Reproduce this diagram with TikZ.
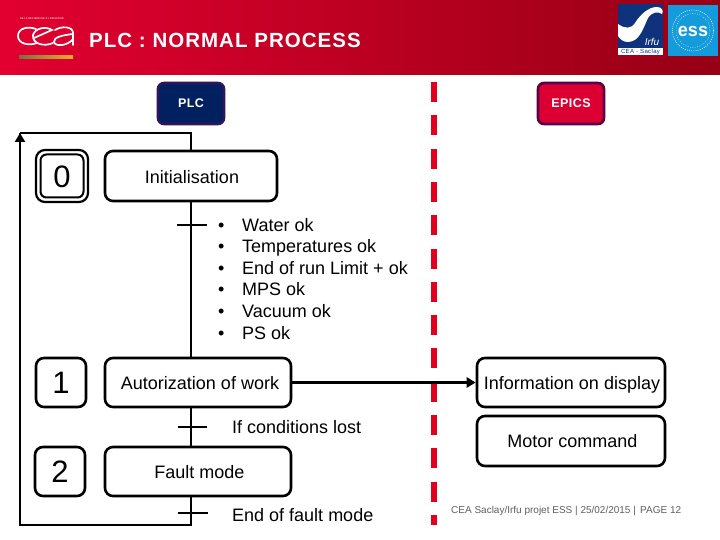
\documentclass[tikz,border=0pt]{standalone}
\usepackage{fontspec}
\usepackage{graphicx}
\setmainfont{Liberation Sans}
\usetikzlibrary{arrows.meta,calc,positioning}
\definecolor{hdrA}{RGB}{226,0,48}
\definecolor{hdrB}{RGB}{205,0,40}
\definecolor{hdrC}{RGB}{150,0,20}
\definecolor{navyfill}{RGB}{0,32,96}
\definecolor{navyedge}{RGB}{50,20,90}
\definecolor{redfill}{RGB}{220,0,50}
\definecolor{rededge}{RGB}{90,0,70}
\definecolor{dashred}{RGB}{225,0,30}
\definecolor{irfublue}{RGB}{15,50,125}
\definecolor{essblue}{RGB}{20,155,220}
\definecolor{footgray}{RGB}{95,95,95}
\definecolor{barL}{RGB}{120,110,70}
\definecolor{barR}{RGB}{235,175,40}
\tikzset{
  x=1pt,y=-1pt,
  box/.style={draw=black,line width=2.6pt,rounded corners=8pt,fill=white,inner sep=0pt,text=black,font=\fontsize{18}{20}\selectfont,text height=13pt,text depth=0pt},
  headbox/.style={line width=2.6pt,rounded corners=6pt,inner sep=0pt,text=white,font=\bfseries\fontsize{12.5}{15}\selectfont\addfontfeature{LetterSpace=4},minimum width=66pt,minimum height=41pt},
  stepnum/.style={box,font=\fontsize{31}{34}\selectfont,text height=22pt,minimum width=50pt,minimum height=49pt},
  wire/.style={draw=black,line width=2.6pt},
  lbl/.style={inner sep=0pt,anchor=base west,text=black,font=\fontsize{18}{20}\selectfont},
  logoline/.style={draw=white,line width=1.7pt,line cap=round},
}
\begin{document}
\begin{tikzpicture}
\useasboundingbox (0,0) rectangle (720,540);
\fill[white] (0,0) rectangle (720,540);
% header
\shade[left color=hdrA,middle color=hdrB,right color=hdrC] (0,0) rectangle (720,75);
% cea logo
\draw[logoline] (36,29) .. controls (28,26) and (18,28) .. (18,36) .. controls (18,44) and (29,46) .. (37,43);
\draw[logoline] (34,38) -- (52,30) .. controls (46,26) and (35,28) .. (33,35) .. controls (32,44) and (44,47) .. (53,43);
\draw[logoline] (55,30) .. controls (61,26) and (73,26) .. (73,33) -- (73,45);
\draw[logoline] (73,34) .. controls (64,35) and (53,37) .. (54,42) .. controls (55,47) and (68,46) .. (73,39);
\shade[left color=barL,right color=barR] (19,56) rectangle (73,59);
\node[inner sep=0pt,text=white,font=\fontsize{2.6}{3}\selectfont] (tagline) at (42,18.5) {DE LA RECHERCHE À L'INDUSTRIE};
\node[inner sep=0pt,anchor=west,text=white,font=\bfseries\fontsize{20.5}{24}\selectfont\addfontfeature{LetterSpace=5}] (title) at (89,40) {PLC : NORMAL PROCESS};
% Irfu logo
\fill[irfublue] (618,4) rectangle (663,55);
\fill[white] (618,48) rectangle (663,55);
\fill[white] (618,24) .. controls (625,29) and (631,29) .. (635,23) .. controls (640,15) and (648,7) .. (657,7) .. controls (662,7) and (664,11) .. (662,14) .. controls (658,11) and (652,12) .. (648,18) .. controls (644,26) and (640,42) .. (628,42) .. controls (623,42) and (620,39) .. (618,36) -- cycle;
\node[inner sep=0pt,text=white,font=\itshape\fontsize{10}{10}\selectfont] (irfu) at (652,42) {Irfu};
\node[inner sep=0pt,text=irfublue,font=\fontsize{6}{6}\selectfont\addfontfeature{LetterSpace=6}] (saclay) at (640.5,51.5) {CEA - Saclay};
% ESS logo
\fill[essblue] (668,5) rectangle (718,56);
\draw[white,line width=0.5pt,dash pattern=on 1pt off 1.2pt] (693,30.5) circle (20.5);
\draw[white,line width=0.4pt,dash pattern=on 0.8pt off 1.6pt] (693,30.5) circle (17);
\node[inner sep=0pt,text=white,font=\bfseries\fontsize{19}{20}\selectfont] (ess) at (693,31) {\scalebox{0.95}[1]{ess}};
% dashed separator
\coordinate (sepT) at (434,82);
\coordinate (sepB) at (434,525);
\draw[dashred,line width=6pt,dash pattern=on 20pt off 13.3pt] (sepT) -- (sepB);
% headers
\node[headbox,draw=navyedge,fill=navyfill] (plc) at (191,103.5) {PLC};
\node[headbox,draw=rededge,fill=redfill] (epics) at (571,103.5) {EPICS};
% coordinates
\coordinate (tick0L) at (177,225);
\coordinate (tick0R) at (207,225);
\coordinate (tick1L) at (178,427);
\coordinate (tick1R) at (207,427);
\coordinate (tick2) at (191,513);
\coordinate (tick2L) at (178,513);
\coordinate (tick2R) at (208,513);
\coordinate (loopBR) at (191,525);
\coordinate (loopBL) at (20,525);
\coordinate (loopTL) at (20,133);
\coordinate (loopTR) at (191,133);
% step boxes
\node[box,text height=15pt,minimum width=172pt,minimum height=50pt] (init) at (191,176) {\hspace{2pt}Initialisation};
\node[box,minimum width=186pt,minimum height=49pt] (auth) at (198,382.5) {\hspace{4pt}Autorization of work};
\node[box,minimum width=186pt,minimum height=49pt] (fault) at (198,471.5) {\hspace{3pt}Fault mode};
\node[stepnum,minimum width=43pt,minimum height=43pt,rounded corners=6pt,line width=2pt,text height=24pt] (s0) at (62,176) {0};
\draw[black,line width=2.2pt,rounded corners=9pt] (36,150) rectangle (88,202);
\node[stepnum] (s1) at (61,382.5) {1};
\node[stepnum] (s2) at (60,471.5) {2};
\node[box,minimum width=188pt,minimum height=49pt] (info) at (571,382.5) {\hspace{2pt}Information on display};
\node[box,minimum width=188pt,minimum height=50pt] (motor) at (571,441) {\hspace{3pt}Motor command};
% wires
\draw[wire] (init.south -| tick2) -- (auth.north -| tick2);
\draw[wire] (auth.south -| tick2) -- (fault.north -| tick2);
\draw[wire] (fault.south -| tick2) -- (loopBR) -- (loopBL) -- (loopTL);
\draw[wire,-{Triangle[length=9pt,width=10pt]}] (loopBL) -- (loopTL);
\draw[wire] (loopTL) -- (loopTR) -- (init.north -| tick2);
\draw[wire] (tick0L) -- (tick0R);
\draw[wire] (tick1L) -- (tick1R);
\draw[wire] (tick2L) -- (tick2R);
\draw[wire,-{Triangle[length=9pt,width=10pt]}] (auth) -- (info);
% bullet list
\foreach \yy/\txt/\nm in {231/Water ok/a,252.5/Temperatures ok/b,274/End of run Limit + ok/c,295.5/MPS ok/d,317/Vacuum ok/e,339/PS ok/f}{
  \node[lbl] (bul\nm) at (218,\yy) {•};
  \node[lbl] (it\nm) at (242,\yy) {\txt};
}
\node[lbl] (lost) at (232,433) {If conditions lost};
\node[lbl] (endf) at (232,521) {End of fault mode};
% footer
\node[inner sep=0pt,anchor=west,text=footgray,font=\fontsize{10}{12}\selectfont] (foot) at (451,511) {CEA Saclay/Irfu projet ESS | 25/02/2015 |};
\node[inner sep=0pt,anchor=west,text=footgray,font=\fontsize{10}{12}\selectfont] (page) at (640,510) {PAGE 12};
\end{tikzpicture}
\end{document}
